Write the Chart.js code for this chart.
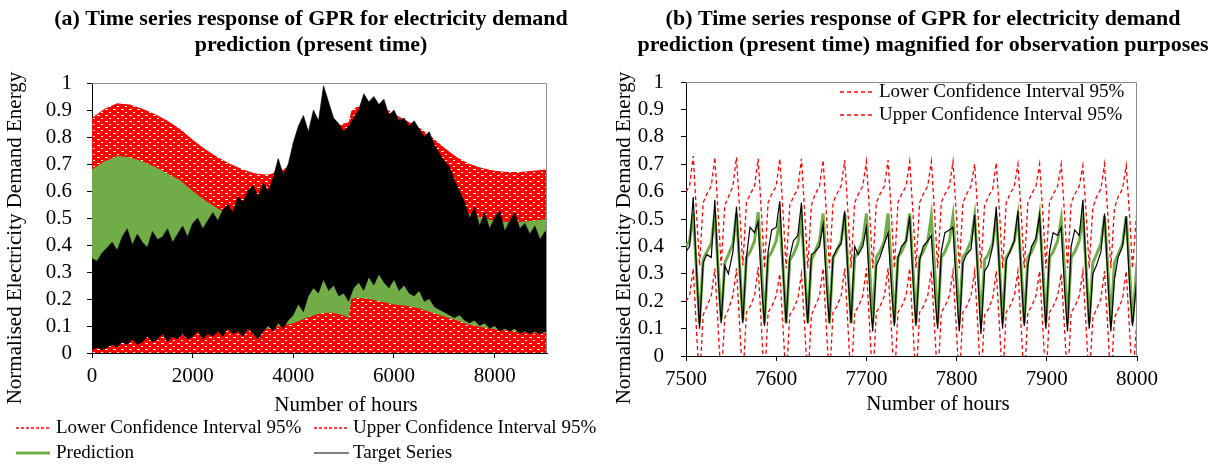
<!DOCTYPE html>
<html>
<head>
<meta charset="utf-8">
<script src="https://cdn.jsdelivr.net/npm/chart.js@4.4.0/dist/chart.umd.min.js"></script>
<style>
  html, body { margin: 0; padding: 0; background: #fff; }
  #wrap { position: relative; width: 1215px; height: 467px; overflow: hidden; }
  canvas { position: absolute; top: 0; }
  #chartA { left: 0; }
  #chartB { left: 600px; }
</style>
</head>
<body>
<div id="wrap">
  <canvas id="chartA" width="600" height="467"></canvas>
  <canvas id="chartB" width="615" height="467"></canvas>
</div>
<script>
// ---- (a) whole series: envelopes of the dense hourly curves ----
const xTicksA = [0, 2000, 4000, 6000, 8000];
const xTicksB = [7500, 7600, 7700, 7800, 7900, 8000];

const hoursCoarseA = [0, 250, 500, 750, 1000, 1250, 1500, 1750, 2000, 2250, 2500, 2750, 3000, 3250, 3500, 3750,
  4000, 4250, 4500, 4750, 5000, 5100, 5150, 5250, 5500, 5750, 6000, 6250, 6500, 6750, 7000, 7250, 7500, 7750,
  8000, 8250, 8500, 8750, 9000, 9050];
// highest value reached by the upper confidence interval
const upperCiTopA = [0.87, 0.905, 0.925, 0.92, 0.905, 0.885, 0.86, 0.83, 0.79, 0.755, 0.725, 0.70, 0.68, 0.665, 0.66, 0.675,
  0.70, 0.74, 0.79, 0.83, 0.85, 0.855, 0.895, 0.91, 0.925, 0.915, 0.885, 0.86, 0.835, 0.80, 0.76, 0.725, 0.70, 0.685,
  0.675, 0.67, 0.67, 0.675, 0.68, 0.68];
// prediction band (daily max / daily min)
const predTopA = [0.68, 0.71, 0.73, 0.725, 0.71, 0.69, 0.665, 0.64, 0.60, 0.565, 0.535, 0.51, 0.49, 0.475, 0.47, 0.485,
  0.51, 0.55, 0.60, 0.64, 0.66, 0.665, 0.70, 0.72, 0.735, 0.725, 0.695, 0.67, 0.645, 0.61, 0.57, 0.535, 0.515, 0.50,
  0.49, 0.485, 0.485, 0.49, 0.495, 0.495];
const predLowA = [0.25, 0.25, 0.24, 0.23, 0.22, 0.21, 0.19, 0.17, 0.15, 0.13, 0.115, 0.10, 0.09, 0.085, 0.09, 0.10,
  0.11, 0.13, 0.145, 0.15, 0.14, 0.13, 0.20, 0.205, 0.20, 0.19, 0.18, 0.175, 0.165, 0.15, 0.135, 0.12, 0.105, 0.095,
  0.088, 0.082, 0.078, 0.075, 0.075, 0.075];

const hoursFineA = [0, 100, 200, 300, 400, 500, 600, 700, 800, 900,
  1000, 1100, 1200, 1300, 1400, 1500, 1600, 1700, 1800, 1900,
  2000, 2100, 2200, 2300, 2400, 2500, 2600, 2700, 2800, 2900,
  3000, 3100, 3200, 3300, 3400, 3500, 3600, 3700, 3800, 3900,
  4000, 4100, 4200, 4300, 4400, 4500, 4600, 4700, 4800, 4900,
  5000, 5100, 5200, 5300, 5400, 5500, 5600, 5700, 5800, 5900,
  6000, 6100, 6200, 6300, 6400, 6500, 6600, 6700, 6800, 6900,
  7000, 7100, 7200, 7300, 7400, 7500, 7600, 7700, 7800, 7900,
  8000, 8100, 8200, 8300, 8400, 8500, 8600, 8700, 8800, 8900,
  9000, 9050];
// target series band (daily max / daily min)
const targetTopA = [0.35, 0.34, 0.37, 0.39, 0.41, 0.38, 0.43, 0.46, 0.40, 0.44,
  0.41, 0.39, 0.45, 0.42, 0.43, 0.46, 0.41, 0.44, 0.47, 0.43,
  0.48, 0.50, 0.46, 0.49, 0.52, 0.49, 0.53, 0.55, 0.52, 0.58,
  0.56, 0.60, 0.62, 0.58, 0.63, 0.60, 0.65, 0.72, 0.66, 0.70,
  0.78, 0.84, 0.88, 0.82, 0.90, 0.86, 0.99, 0.93, 0.87, 0.85,
  0.82, 0.84, 0.87, 0.90, 0.96, 0.93, 0.95, 0.92, 0.94, 0.88,
  0.90, 0.86, 0.87, 0.84, 0.86, 0.83, 0.80, 0.82, 0.77, 0.74,
  0.71, 0.69, 0.64, 0.60, 0.56, 0.50, 0.54, 0.47, 0.52, 0.46,
  0.50, 0.53, 0.45, 0.49, 0.52, 0.46, 0.48, 0.44, 0.47, 0.42,
  0.45, 0.43];
const targetLowA = [0.01, 0.02, 0.01, 0.02, 0.03, 0.02, 0.04, 0.03, 0.05, 0.03,
  0.04, 0.06, 0.04, 0.05, 0.07, 0.04, 0.06, 0.05, 0.07, 0.05,
  0.06, 0.08, 0.05, 0.07, 0.06, 0.08, 0.06, 0.09, 0.07, 0.08,
  0.06, 0.09, 0.07, 0.05, 0.08, 0.10, 0.08, 0.11, 0.09, 0.12,
  0.14, 0.18, 0.15, 0.21, 0.24, 0.22, 0.27, 0.23, 0.25, 0.21,
  0.22, 0.19, 0.24, 0.26, 0.23, 0.28, 0.25, 0.29, 0.26, 0.24,
  0.27, 0.23, 0.25, 0.22, 0.21, 0.23, 0.19, 0.20, 0.17, 0.16,
  0.15, 0.14, 0.13, 0.14, 0.12, 0.11, 0.12, 0.10, 0.11, 0.09,
  0.10, 0.08, 0.09, 0.08, 0.09, 0.07, 0.08, 0.07, 0.08, 0.07,
  0.08, 0.07];

// ---- (b) hours 7500-8000 ----
const hoursB = [7500, 7504,
  7508, 7512, 7515, 7519, 7523, 7528,
  7532, 7536, 7539, 7543, 7547, 7552,
  7556, 7560, 7563, 7567, 7571, 7576,
  7580, 7584, 7587, 7591, 7595, 7600,
  7604, 7608, 7611, 7615, 7619, 7624,
  7628, 7632, 7635, 7639, 7643, 7648,
  7652, 7656, 7659, 7663, 7667, 7672,
  7676, 7680, 7683, 7687, 7691, 7696,
  7700, 7704, 7707, 7711, 7715, 7720,
  7724, 7728, 7731, 7735, 7739, 7744,
  7748, 7752, 7755, 7759, 7763, 7768,
  7772, 7776, 7779, 7783, 7787, 7792,
  7796, 7800, 7803, 7807, 7811, 7816,
  7820, 7824, 7827, 7831, 7835, 7840,
  7844, 7848, 7851, 7855, 7859, 7864,
  7868, 7872, 7875, 7879, 7883, 7888,
  7892, 7896, 7899, 7903, 7907, 7912,
  7916, 7920, 7923, 7927, 7931, 7936,
  7940, 7944, 7947, 7951, 7955, 7960,
  7964, 7968, 7971, 7975, 7979, 7984,
  7988, 7992, 7995, 8000];
const targetB = [0.38, 0.40,
  0.58, 0.29, 0.10, 0.34, 0.37, 0.36,
  0.57, 0.27, 0.12, 0.33, 0.30, 0.38,
  0.545, 0.29, 0.12, 0.36, 0.47, 0.45,
  0.49, 0.25, 0.11, 0.38, 0.46, 0.47,
  0.565, 0.29, 0.12, 0.36, 0.42, 0.44,
  0.56, 0.27, 0.12, 0.37, 0.38, 0.40,
  0.48, 0.25, 0.12, 0.36, 0.39, 0.41,
  0.53, 0.27, 0.12, 0.40, 0.37, 0.40,
  0.47, 0.22, 0.09, 0.33, 0.36, 0.41,
  0.45, 0.24, 0.11, 0.36, 0.40, 0.42,
  0.51, 0.26, 0.11, 0.35, 0.40, 0.42,
  0.44, 0.22, 0.10, 0.38, 0.45, 0.46,
  0.47, 0.24, 0.09, 0.34, 0.37, 0.39,
  0.515, 0.26, 0.08, 0.31, 0.33, 0.40,
  0.545, 0.28, 0.10, 0.35, 0.38, 0.42,
  0.53, 0.27, 0.11, 0.33, 0.40, 0.43,
  0.515, 0.26, 0.10, 0.38, 0.45, 0.44,
  0.47, 0.23, 0.09, 0.40, 0.46, 0.44,
  0.57, 0.28, 0.10, 0.30, 0.33, 0.38,
  0.52, 0.26, 0.09, 0.28, 0.36, 0.40,
  0.51, 0.24, 0.11, 0.29];
const predB = [0.40, 0.42,
  0.52, 0.29, 0.12, 0.35, 0.38, 0.41,
  0.52, 0.30, 0.13, 0.34, 0.37, 0.41,
  0.52, 0.30, 0.13, 0.36, 0.38, 0.42,
  0.525, 0.30, 0.12, 0.36, 0.38, 0.42,
  0.50, 0.30, 0.12, 0.35, 0.37, 0.41,
  0.50, 0.30, 0.12, 0.35, 0.38, 0.42,
  0.52, 0.30, 0.12, 0.36, 0.38, 0.42,
  0.52, 0.30, 0.12, 0.36, 0.38, 0.42,
  0.52, 0.30, 0.12, 0.36, 0.38, 0.42,
  0.52, 0.30, 0.12, 0.36, 0.38, 0.42,
  0.52, 0.30, 0.12, 0.36, 0.38, 0.42,
  0.51, 0.30, 0.12, 0.36, 0.38, 0.42,
  0.51, 0.30, 0.12, 0.36, 0.38, 0.42,
  0.51, 0.30, 0.12, 0.35, 0.37, 0.41,
  0.51, 0.30, 0.12, 0.36, 0.38, 0.42,
  0.51, 0.30, 0.12, 0.36, 0.38, 0.42,
  0.51, 0.30, 0.12, 0.36, 0.38, 0.42,
  0.50, 0.30, 0.12, 0.36, 0.38, 0.42,
  0.51, 0.30, 0.12, 0.34, 0.37, 0.41,
  0.51, 0.30, 0.12, 0.34, 0.37, 0.41,
  0.51, 0.30, 0.12, 0.34];
const upperCiB = [0.60, 0.62,
  0.73, 0.50, 0.33, 0.56, 0.59, 0.62,
  0.725, 0.50, 0.33, 0.55, 0.58, 0.62,
  0.725, 0.50, 0.33, 0.56, 0.59, 0.62,
  0.72, 0.50, 0.32, 0.56, 0.59, 0.62,
  0.72, 0.50, 0.32, 0.55, 0.58, 0.61,
  0.72, 0.50, 0.32, 0.55, 0.59, 0.62,
  0.715, 0.50, 0.32, 0.56, 0.59, 0.62,
  0.715, 0.50, 0.32, 0.56, 0.59, 0.62,
  0.71, 0.50, 0.32, 0.56, 0.59, 0.62,
  0.715, 0.50, 0.32, 0.56, 0.59, 0.62,
  0.71, 0.50, 0.32, 0.56, 0.59, 0.62,
  0.71, 0.50, 0.32, 0.56, 0.59, 0.62,
  0.71, 0.50, 0.32, 0.56, 0.59, 0.62,
  0.70, 0.50, 0.32, 0.55, 0.58, 0.61,
  0.705, 0.50, 0.32, 0.56, 0.59, 0.62,
  0.70, 0.50, 0.32, 0.56, 0.59, 0.62,
  0.70, 0.50, 0.32, 0.56, 0.59, 0.62,
  0.70, 0.50, 0.32, 0.56, 0.59, 0.62,
  0.695, 0.50, 0.32, 0.54, 0.58, 0.61,
  0.70, 0.50, 0.32, 0.54, 0.58, 0.61,
  0.695, 0.50, 0.32, 0.54];
const lowerCiB = [0.20, 0.22,
  0.32, 0.07, -0.10, 0.15, 0.18, 0.22,
  0.32, 0.08, -0.09, 0.14, 0.17, 0.22,
  0.32, 0.08, -0.09, 0.16, 0.18, 0.22,
  0.325, 0.08, -0.10, 0.16, 0.18, 0.22,
  0.30, 0.08, -0.10, 0.15, 0.17, 0.21,
  0.30, 0.08, -0.10, 0.15, 0.18, 0.22,
  0.32, 0.08, -0.10, 0.16, 0.18, 0.22,
  0.32, 0.08, -0.10, 0.16, 0.18, 0.22,
  0.32, 0.08, -0.10, 0.16, 0.18, 0.22,
  0.32, 0.08, -0.10, 0.16, 0.18, 0.22,
  0.32, 0.08, -0.10, 0.16, 0.18, 0.22,
  0.31, 0.08, -0.10, 0.16, 0.18, 0.22,
  0.31, 0.08, -0.10, 0.16, 0.18, 0.22,
  0.31, 0.08, -0.10, 0.15, 0.17, 0.21,
  0.31, 0.08, -0.10, 0.16, 0.18, 0.22,
  0.31, 0.08, -0.10, 0.16, 0.18, 0.22,
  0.31, 0.08, -0.10, 0.16, 0.18, 0.22,
  0.30, 0.08, -0.10, 0.16, 0.18, 0.22,
  0.31, 0.08, -0.10, 0.14, 0.17, 0.21,
  0.31, 0.08, -0.10, 0.14, 0.17, 0.21,
  0.31, 0.08, -0.10, 0.14];

const yTicksLabel = v => String(Math.round(v * 10) / 10);
const RED = '#ff0000';
const GREEN = '#70ad47';

Chart.defaults.font.family = '"Liberation Serif", "Times New Roman", serif';
Chart.defaults.font.size = 21;
Chart.defaults.color = '#000';

function pts(xs, ys) {
  return xs.map((x, i) => ({ x: x, y: ys[i] }));
}

// red dashes packed together look like red with small white gaps
function dashPattern(ctx) {
  const tile = document.createElement('canvas');
  tile.width = 8; tile.height = 6;
  const g = tile.getContext('2d');
  g.fillStyle = RED;
  g.fillRect(0, 0, 8, 6);
  g.fillStyle = '#ffffff';
  g.fillRect(1, 1, 3, 1);
  g.fillRect(5, 4, 2, 1);
  return ctx.createPattern(tile, 'repeat');
}

// titles, axis titles, legend and the grey frame are drawn here
const decor = {
  id: 'decor',
  afterDraw(chart, args, o) {
    const ctx = chart.ctx;
    const a = chart.chartArea;
    ctx.save();
    ctx.strokeStyle = '#8c8c8c';
    ctx.lineWidth = 1;
    ctx.beginPath();
    ctx.moveTo(a.left, a.top + 0.5);
    ctx.lineTo(a.right - 0.5, a.top + 0.5);
    ctx.lineTo(a.right - 0.5, a.bottom);
    ctx.stroke();

    ctx.fillStyle = '#000';
    ctx.textBaseline = 'middle';
    ctx.textAlign = 'center';
    ctx.font = 'bold 22px "Liberation Serif"';
    o.title.forEach((t, i) => ctx.fillText(t, o.titleX, o.titleY[i]));

    ctx.font = '21px "Liberation Serif"';
    ctx.fillText('Number of hours', o.xTitle[0], o.xTitle[1]);
    ctx.save();
    ctx.translate(o.yTitle[0], o.yTitle[1]);
    ctx.rotate(-Math.PI / 2);
    ctx.fillText('Normalised Electricity Demand Energy', 0, 0);
    ctx.restore();

    ctx.font = '19px "Liberation Serif"';
    ctx.textAlign = 'left';
    o.legend.forEach(it => {
      ctx.beginPath();
      ctx.strokeStyle = it.color;
      ctx.lineWidth = it.w;
      ctx.setLineDash(it.dash || []);
      ctx.moveTo(it.x1, it.y);
      ctx.lineTo(it.x2, it.y);
      ctx.stroke();
      ctx.setLineDash([]);
      ctx.fillText(it.text, it.tx, it.y);
    });
    ctx.restore();
  }
};

function yAxis(width, pad) {
  return {
    min: 0, max: 1,
    ticks: { stepSize: 0.1, padding: pad, autoSkip: false, callback: yTicksLabel },
    grid: { drawOnChartArea: false, drawTicks: true, tickLength: 5, tickColor: '#000' },
    border: { color: '#000', width: 1 },
    afterFit: s => { s.width = width; }
  };
}
function xAxis(min, max, tickVals, height) {
  return {
    type: 'linear', min: min, max: max,
    ticks: { padding: 6, maxRotation: 0, autoSkip: false, callback: v => String(v) },
    afterBuildTicks: s => { s.ticks = tickVals.map(v => ({ value: v })); },
    grid: { drawOnChartArea: false, drawTicks: true, tickLength: 5, tickColor: '#000' },
    border: { color: '#000', width: 1 },
    afterFit: s => { s.height = height; }
  };
}

const base = {
  responsive: false,
  animation: false,
  events: [],
  elements: { point: { radius: 0 }, line: { tension: 0 } },
};

// ---- chart (a) ----
const ctxA = document.getElementById('chartA').getContext('2d');
new Chart(ctxA, {
  type: 'line',
  data: {
    datasets: [
      { label: 'Target low', data: pts(hoursFineA, targetLowA), borderWidth: 0, borderColor: 'transparent', fill: false, order: 0 },
      { label: 'Target Series', data: pts(hoursFineA, targetTopA), borderWidth: 0.6, borderColor: '#000', backgroundColor: '#000', fill: '-1', order: 0 },
      { label: 'Prediction low', data: pts(hoursCoarseA, predLowA), borderWidth: 0, borderColor: 'transparent', fill: false, order: 1 },
      { label: 'Prediction', data: pts(hoursCoarseA, predTopA), borderWidth: 0, borderColor: GREEN, backgroundColor: GREEN, fill: '-1', order: 1 },
      { label: 'Confidence Interval 95%', data: pts(hoursCoarseA, upperCiTopA), borderWidth: 0, borderColor: RED, backgroundColor: dashPattern(ctxA), fill: 'origin', order: 2 }
    ]
  },
  options: Object.assign({}, base, {
    layout: { padding: { left: 0, right: 53, top: 83, bottom: 0 } },
    scales: { x: xAxis(0, 9040, xTicksA, 114), y: yAxis(92, 15) },
    plugins: {
      legend: { display: false }, tooltip: { enabled: false },
      decor: {
        title: ['(a) Time series response of GPR for electricity demand', 'prediction (present time)'],
        titleX: 311, titleY: [19, 45],
        xTitle: [346, 405], yTitle: [15, 238],
        legend: [
          { x1: 16, x2: 50, y: 428, color: RED, w: 1.3, dash: [3, 2], text: 'Lower Confidence Interval 95%', tx: 56 },
          { x1: 314, x2: 349, y: 428, color: RED, w: 1.3, dash: [3, 2], text: 'Upper Confidence Interval 95%', tx: 353 },
          { x1: 16, x2: 50, y: 453, color: GREEN, w: 3, text: 'Prediction', tx: 56 },
          { x1: 314, x2: 349, y: 453, color: '#000', w: 1.2, text: 'Target Series', tx: 353 }
        ]
      }
    }
  }),
  plugins: [decor]
});

// ---- chart (b) ----
const ctxB = document.getElementById('chartB').getContext('2d');
new Chart(ctxB, {
  type: 'line',
  data: {
    datasets: [
      { label: 'Target Series', data: pts(hoursB, targetB), borderColor: '#000', borderWidth: 1.2, fill: false, order: 0 },
      { label: 'Prediction', data: pts(hoursB, predB), borderColor: GREEN, borderWidth: 3, fill: false, order: 1 },
      { label: 'Upper Confidence Interval 95%', data: pts(hoursB, upperCiB), borderColor: RED, borderWidth: 1.3, borderDash: [4, 3], fill: false, order: 2 },
      { label: 'Lower Confidence Interval 95%', data: pts(hoursB, lowerCiB), borderColor: RED, borderWidth: 1.3, borderDash: [4, 3], fill: false, order: 3 }
    ]
  },
  options: Object.assign({}, base, {
    layout: { padding: { left: 0, right: 78, top: 82, bottom: 0 } },
    scales: { x: xAxis(7500, 8000, xTicksB, 111), y: yAxis(86, 17) },
    plugins: {
      legend: { display: false }, tooltip: { enabled: false },
      decor: {
        title: ['(b) Time series response of GPR for electricity demand', 'prediction (present time) magnified for observation purposes'],
        titleX: 323, titleY: [19, 45],
        xTitle: [338, 404], yTitle: [24, 238],
        legend: [
          { x1: 240, x2: 273, y: 92, color: RED, w: 1.3, dash: [4, 3], text: 'Lower Confidence Interval 95%', tx: 279 },
          { x1: 240, x2: 273, y: 115, color: RED, w: 1.3, dash: [4, 3], text: 'Upper Confidence Interval 95%', tx: 279 }
        ]
      }
    }
  }),
  plugins: [decor]
});
</script>
</body>
</html>
